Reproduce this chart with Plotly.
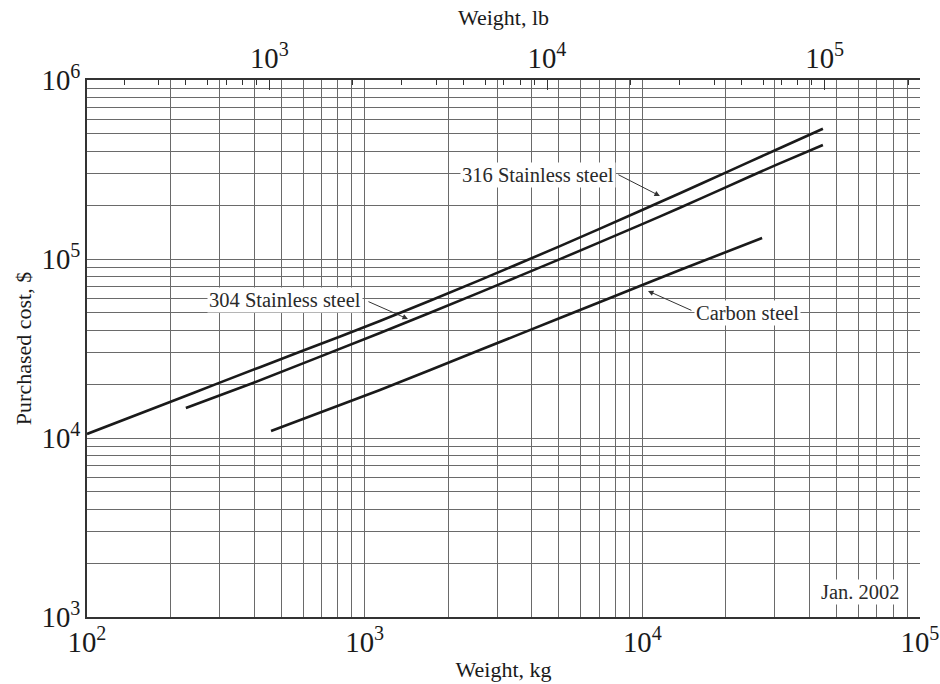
import numpy as np
import plotly.graph_objects as go

# Purchased cost of vessels vs. weight (Jan. 2002)
kg_316 = [100, 199, 296, 585, 1135, 2600, 5050, 9800, 13660, 19500, 30500, 44700]
cost_316 = [10530, 15890, 20200, 30300, 45000, 76200, 118000, 185400, 232800, 299000, 409000, 534000]

kg_304 = [227, 396, 1135, 2600, 5050, 9800, 13660, 19500, 30500, 44700]
cost_304 = [14710, 20300, 38600, 65100, 99800, 154600, 193400, 247400, 336700, 433500]

kg_cs = [460, 1135, 2600, 5050, 9800, 13660, 27000]
cost_cs = [10940, 18540, 31000, 46800, 70700, 86800, 131000]

LB_PER_KG = 2.20462
KG_RANGE = [100, 1e5]
COST_RANGE = [1e3, 1e6]

FONT = "Liberation Serif"
GRID = "#6a6a6a"
INK = "#1a1a1a"

fig = go.Figure()

for xs, ys in [(kg_316, cost_316), (kg_304, cost_304), (kg_cs, cost_cs)]:
    fig.add_trace(go.Scatter(
        x=xs, y=ys, mode="lines",
        line=dict(color=INK, width=2.6, shape="spline", smoothing=0.5),
        showlegend=False, hoverinfo="x+y",
    ))

# same 316 curve expressed in pounds, carried on the top axis (invisible)
fig.add_trace(go.Scatter(
    x=[k * LB_PER_KG for k in kg_316], y=cost_316, xaxis="x2", yaxis="y",
    mode="lines", line=dict(color="rgba(0,0,0,0)", width=0),
    showlegend=False, hoverinfo="skip",
))

tick_font = dict(family=FONT, size=23, color=INK)
title_font = dict(family=FONT, size=22, color=INK)

fig.update_layout(
    width=940, height=684,
    margin=dict(l=87, r=20, t=80, b=67),
    paper_bgcolor="white", plot_bgcolor="white",
    font=dict(family=FONT, color=INK),
    xaxis=dict(
        type="log", range=[np.log10(KG_RANGE[0]), np.log10(KG_RANGE[1])],
        dtick=1, exponentformat="power", automargin=False,
        showgrid=True, gridcolor=GRID, gridwidth=1,
        minor=dict(dtick="D1", showgrid=True, gridcolor=GRID, gridwidth=1),
        showline=True, linecolor="#333", linewidth=2,
        ticks="", tickfont=tick_font, zeroline=False,
        title=dict(text="Weight, kg", font=title_font, standoff=4),
    ),
    xaxis2=dict(
        type="log", overlaying="x", side="top", anchor="y",
        range=[np.log10(KG_RANGE[0] * LB_PER_KG), np.log10(KG_RANGE[1] * LB_PER_KG)],
        dtick=1, exponentformat="power", automargin=False,
        showgrid=False,
        ticks="inside", ticklen=10, tickcolor="#333", tickwidth=1,
        minor=dict(dtick="D1", ticks="inside", ticklen=5, tickcolor="#333", showgrid=False),
        showline=True, linecolor="#333", linewidth=2,
        tickfont=tick_font, zeroline=False,
        title=dict(text="Weight, lb", font=title_font, standoff=6),
    ),
    yaxis=dict(
        type="log", range=[np.log10(COST_RANGE[0]), np.log10(COST_RANGE[1])],
        dtick=1, exponentformat="power", automargin=False,
        showgrid=True, gridcolor=GRID, gridwidth=1,
        minor=dict(dtick="D1", showgrid=True, gridcolor=GRID, gridwidth=1),
        showline=True, linecolor="#333", linewidth=2,
        ticks="", tickfont=tick_font, zeroline=False,
        title=dict(text="Purchased cost, $", font=title_font, standoff=4),
    ),
)

lg = np.log10
label_font = dict(family=FONT, size=20.5, color="#2a2a2a")

# curve labels (x in kg, y in $)
labels = [
    ("316 Stainless steel", 4210, 294000),
    ("304 Stainless steel", 517, 59000),
    ("Carbon steel", 24000, 49900),
    ("Jan. 2002", 60800, 1380),
]
for text, kx, cy in labels:
    fig.add_annotation(
        x=lg(kx), y=lg(cy), xref="x", yref="y", text=text, showarrow=False,
        font=label_font, bgcolor="white", borderpad=1,
    )

# leader arrows: (tail kg, tail $) -> (head kg, head $)
arrows = [
    ((8100, 298500), (11570, 225000)),
    ((1019, 58300), (1432, 46200)),
    ((15210, 51200), (10480, 66300)),
]
for (tx, ty), (hx, hy) in arrows:
    fig.add_annotation(
        x=lg(hx), y=lg(hy), ax=lg(tx), ay=lg(ty), xref="x", yref="y",
        axref="x", ayref="y", text="", showarrow=True,
        arrowhead=2, arrowsize=1.1, arrowwidth=1, arrowcolor="#333",
    )

fig.write_html("out.html")
